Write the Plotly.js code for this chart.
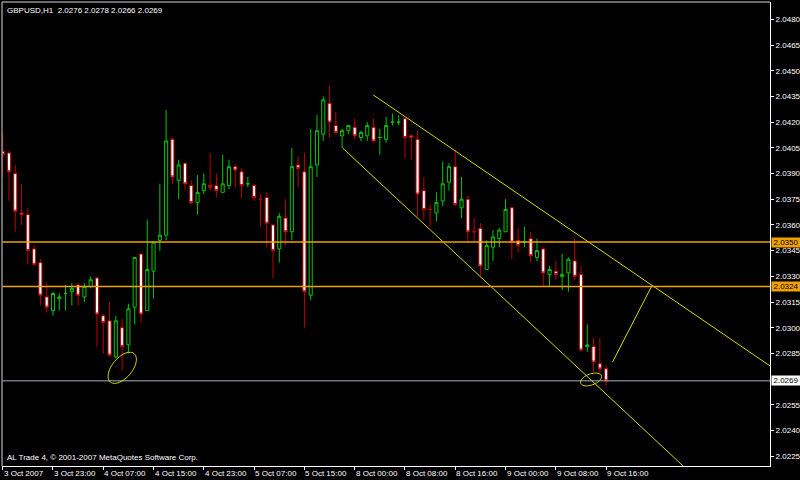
<!DOCTYPE html>
<html>
<head>
<meta charset="utf-8">
<script src="https://cdn.plot.ly/plotly-3.0.1.min.js"></script>
<style>html,body{margin:0;padding:0;background:#000;}#chart{width:800px;height:480px;}</style>
</head>
<body>
<div id="chart"></div>
<script>
// ---- data (GBPUSD, H1) ----
const open = [
2.0403,2.0402,2.0390,2.0367,2.0366,2.0346,2.0338,2.0318,2.0310,2.0317,
2.0320,2.0321,2.0325,2.0318,2.0324,2.0329,2.0307,2.0304,2.0283,2.0300,
2.0290,2.0312,2.0343,2.0310,2.0333,2.0351,2.0354,2.0410,2.0386,2.0396,
2.0383,2.0373,2.0380,2.0383,2.0383,2.0379,2.0383,2.0394,2.0391,2.0384,
2.0383,2.0375,2.0376,2.0360,2.0346,2.0364,2.0356,2.0395,2.0391,2.0319,
2.0395,2.0413,2.0431,2.0418,2.0412,2.0415,2.0417,2.0411,2.0412,2.0417,
2.0411,2.0410,2.0420,2.0420,2.0422,2.0412,2.0410,2.0380,2.0369,2.0367,
2.0374,2.0385,2.0394,2.0370,2.0375,2.0356,2.0358,2.0334,2.0347,2.0352,
2.0356,2.0370,2.0351,2.0350,2.0352,2.0341,2.0346,2.0331,2.0333,2.0330,
2.0332,2.0339,2.0331,2.0289,2.0289,2.0279,2.0276];
const high = [
2.0414,2.0403,2.0395,2.0384,2.0370,2.0348,2.0340,2.0326,2.0321,2.0320,
2.0325,2.0326,2.0326,2.0326,2.0330,2.0330,2.0308,2.0315,2.0307,2.0305,
2.0314,2.0341,2.0343,2.0363,2.0350,2.0384,2.0427,2.0411,2.0398,2.0396,
2.0386,2.0389,2.0390,2.0402,2.0390,2.0401,2.0398,2.0395,2.0393,2.0388,
2.0384,2.0378,2.0379,2.0360,2.0367,2.0375,2.0405,2.0400,2.0402,2.0416,
2.0424,2.0435,2.0441,2.0426,2.0416,2.0418,2.0422,2.0415,2.0420,2.0422,
2.0416,2.0423,2.0425,2.0424,2.0422,2.0413,2.0415,2.0388,2.0372,2.0379,
2.0397,2.0396,2.0404,2.0388,2.0377,2.0364,2.0361,2.0351,2.0357,2.0358,
2.0375,2.0370,2.0358,2.0359,2.0356,2.0352,2.0347,2.0336,2.0339,2.0343,
2.0341,2.0352,2.0336,2.0302,2.0294,2.0294,2.0278];
const low = [
2.0388,2.0374,2.0356,2.0360,2.0337,2.0336,2.0313,2.0309,2.0307,2.0310,
2.0310,2.0313,2.0313,2.0315,2.0323,2.0289,2.0285,2.0283,2.0282,2.0275,
2.0285,2.0302,2.0303,2.0310,2.0317,2.0345,2.0351,2.0384,2.0375,2.0381,
2.0372,2.0366,2.0378,2.0380,2.0376,2.0379,2.0381,2.0382,2.0376,2.0382,
2.0374,2.0359,2.0347,2.0329,2.0338,2.0348,2.0351,2.0382,2.0300,2.0316,
2.0388,2.0409,2.0411,2.0413,2.0405,2.0413,2.0410,2.0409,2.0409,2.0408,
2.0401,2.0408,2.0418,2.0418,2.0399,2.0398,2.0365,2.0363,2.0359,2.0362,
2.0371,2.0380,2.0371,2.0364,2.0350,2.0350,2.0330,2.0334,2.0339,2.0347,
2.0356,2.0340,2.0344,2.0347,2.0338,2.0339,2.0324,2.0324,2.0328,2.0322,
2.0321,2.0328,2.0286,2.0286,2.0274,2.0273,2.0266];
const close = [
2.0401,2.0391,2.0368,2.0366,2.0345,2.0337,2.0319,2.0312,2.0320,2.0318,
2.0320,2.0323,2.0319,2.0324,2.0328,2.0308,2.0303,2.0284,2.0304,2.0289,
2.0311,2.0341,2.0308,2.0334,2.0350,2.0354,2.0409,2.0388,2.0395,2.0384,
2.0373,2.0379,2.0384,2.0382,2.0380,2.0384,2.0394,2.0392,2.0383,2.0384,
2.0376,2.0375,2.0361,2.0345,2.0365,2.0356,2.0394,2.0393,2.0321,2.0394,
2.0415,2.0433,2.0420,2.0414,2.0415,2.0418,2.0412,2.0414,2.0418,2.0409,
2.0411,2.0418,2.0420,2.0420,2.0411,2.0411,2.0378,2.0369,2.0369,2.0373,
2.0384,2.0394,2.0372,2.0375,2.0356,2.0356,2.0336,2.0348,2.0353,2.0357,
2.0369,2.0350,2.0348,2.0350,2.0342,2.0345,2.0332,2.0334,2.0331,2.0331,
2.0340,2.0330,2.0287,2.0290,2.0280,2.0276,2.0269];

// time axis labels (every 8 bars)
const xTickBars = [0,8,16,24,32,40,48,56,64,72,80,88,96];
const xTickLabels = ["3 Oct 2007","3 Oct 23:00","4 Oct 07:00","4 Oct 15:00","4 Oct 23:00",
  "5 Oct 07:00","5 Oct 15:00","8 Oct 00:00","8 Oct 08:00","8 Oct 16:00",
  "9 Oct 00:00","9 Oct 08:00","9 Oct 16:00"];
// price axis labels (2.0270 is hidden under the last-price box)
const yTickVals = [2.0225,2.0240,2.0255,2.0285,2.0300,2.0315,2.0330,2.0345,
  2.0360,2.0375,2.0390,2.0405,2.0420,2.0435,2.0450,2.0465,2.0480];

// horizontal levels
const orangeLevels = [2.0350, 2.0324];
const grayLevels = [2.0269];

// trend lines [bar, price]
const upperLineX = [58.94, 122.07], upperLineY = [2.04359, 2.02777];
const lowerLineX = [54.01, 108.25], lowerLineY = [2.04051, 2.02193];
const projLineX  = [97.02, 103.27], projLineY  = [2.02800, 2.03244];

// ellipses: centre bar, centre price
const ellipseBar = [19.02, 93.6];
const ellipsePrice = [2.02766, 2.02698];

const title = "GBPUSD,H1\u00a0 2.0276 2.0278 2.0266 2.0269";
const copyright = "AL Trade 4, \u00a9 2001-2007 MetaQuotes Software Corp.";

// ---- layout ----
const W = 800, H = 480;
const M = {l: 2, r: 30, t: 2, b: 14, pad: 0};
const xRange = [-0.11, 122.07];
const yRange = [2.02193, 2.04901];
const pxPerBar = (W - M.l - M.r) / (xRange[1] - xRange[0]);
const pricePerPx = (yRange[1] - yRange[0]) / (H - M.t - M.b);

function ellipsePath(ci, cp, a, b, deg) {
  const th = deg * Math.PI / 180;
  let s = "";
  for (let k = 0; k <= 48; k++) {
    const t = k / 48 * 2 * Math.PI;
    const dx = a * Math.cos(t) * Math.cos(th) - b * Math.sin(t) * Math.sin(th);
    const dy = a * Math.cos(t) * Math.sin(th) + b * Math.sin(t) * Math.cos(th);
    s += (k === 0 ? "M" : "L") + (ci + dx / pxPerBar) + "," + (cp + dy * pricePerPx);
  }
  return s + "Z";
}

const idx = open.map((_, i) => i);
const font = "Liberation Sans, Arial, sans-serif";
const yellow = "#d8d800";

const traces = [
  {
    type: "candlestick", x: idx, open: open, high: high, low: low, close: close,
    increasing: {line: {color: "#00c800", width: 1}, fillcolor: "#000000"},
    decreasing: {line: {color: "#c00000", width: 1}, fillcolor: "#ffffff"},
    whiskerwidth: 0, hoverinfo: "skip", showlegend: false
  },
  {type: "scatter", mode: "lines", x: upperLineX, y: upperLineY, line: {color: yellow, width: 1}, hoverinfo: "skip", showlegend: false},
  {type: "scatter", mode: "lines", x: lowerLineX, y: lowerLineY, line: {color: yellow, width: 1}, hoverinfo: "skip", showlegend: false},
  {type: "scatter", mode: "lines", x: projLineX, y: projLineY, line: {color: yellow, width: 1}, hoverinfo: "skip", showlegend: false}
];

const shapes = [];
orangeLevels.forEach(v => shapes.push({type: "line", xref: "paper", yref: "y", x0: 0, x1: 1, y0: v, y1: v, line: {color: "#f0a000", width: 1.5}}));
grayLevels.forEach(v => shapes.push({type: "line", xref: "paper", yref: "y", x0: 0, x1: 1, y0: v, y1: v, line: {color: "#a8b0c0", width: 1}}));
shapes.push({type: "path", xref: "x", yref: "y", path: ellipsePath(ellipseBar[0], ellipsePrice[0], 18.5, 10, 50), line: {color: yellow, width: 1}});
shapes.push({type: "path", xref: "x", yref: "y", path: ellipsePath(ellipseBar[1], ellipsePrice[1], 11, 5.5, 20), line: {color: yellow, width: 1}});
// frame (left / top)
shapes.push({type: "line", xref: "paper", yref: "paper", x0: 0, x1: 0, y0: 0, y1: 1, line: {color: "#909090", width: 1.5}});
shapes.push({type: "line", xref: "paper", yref: "paper", x0: 0, x1: 1, y0: 1, y1: 1, line: {color: "#909090", width: 1.5}});

const annotations = [
  {xref: "paper", yref: "paper", x: 0, y: 1, xanchor: "left", yanchor: "top", xshift: 3, yshift: -2,
   text: title, showarrow: false, font: {family: font, size: 8, color: "#ffffff"}},
  {xref: "paper", yref: "paper", x: 0, y: 0, xanchor: "left", yanchor: "bottom", xshift: 3, yshift: 2,
   text: copyright, showarrow: false, font: {family: font, size: 8, color: "#ffffff"}}
];
// time labels, left-aligned at their tick (as MetaTrader draws them)
xTickBars.forEach((b, k) => annotations.push({xref: "x", yref: "paper", x: b, y: 0, xanchor: "left", yanchor: "top",
  xshift: -1, yshift: -1, text: xTickLabels[k], showarrow: false, font: {family: font, size: 8, color: "#ffffff"}}));
orangeLevels.forEach(v => annotations.push({xref: "paper", yref: "y", x: 1, y: v, xanchor: "left", yanchor: "middle",
  xshift: 1, text: v.toFixed(4), showarrow: false, bgcolor: "#f0a000", borderpad: 0, width: 28, height: 9,
  font: {family: font, size: 8, color: "#000000"}}));
grayLevels.forEach(v => annotations.push({xref: "paper", yref: "y", x: 1, y: v, xanchor: "left", yanchor: "middle",
  xshift: 1, text: v.toFixed(4), showarrow: false, bgcolor: "#ffffff", borderpad: 0, width: 28, height: 9,
  font: {family: font, size: 8, color: "#000000"}}));

const layout = {
  width: W, height: H, margin: M,
  paper_bgcolor: "#000000", plot_bgcolor: "#000000",
  showlegend: false, hovermode: false,
  xaxis: {
    range: xRange, showgrid: false, zeroline: false, rangeslider: {visible: false},
    tickmode: "array", tickvals: xTickBars, showticklabels: false,
    ticks: "outside", ticklen: 3, tickcolor: "#ffffff", tickwidth: 1,
    showline: true, linecolor: "#ffffff", linewidth: 1, fixedrange: true
  },
  yaxis: {
    range: yRange, side: "right", showgrid: false, zeroline: false,
    tickmode: "array", tickvals: yTickVals, tickformat: ".4f",
    ticks: "outside", ticklen: 3, tickcolor: "#ffffff", tickwidth: 1,
    showline: true, linecolor: "#ffffff", linewidth: 1,
    tickfont: {family: font, size: 8, color: "#ffffff"}, fixedrange: true
  },
  shapes: shapes,
  annotations: annotations
};

Plotly.newPlot("chart", traces, layout, {displayModeBar: false, staticPlot: true});
</script>
</body>
</html>
